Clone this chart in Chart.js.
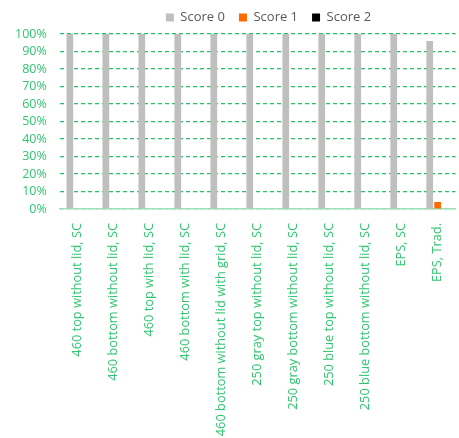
<!DOCTYPE html>
<html>
<head>
<meta charset="utf-8">
<script src="https://cdn.jsdelivr.net/npm/chart.js@4"></script>
<style>
  html, body { margin: 0; padding: 0; background: #fff; }
  #wrap { position: relative; width: 459px; height: 438px; }
</style>
</head>
<body>
<div id="wrap"><canvas id="chart"></canvas></div>
<script>
const categories = [
    '460 top without lid, SC',
    '460 bottom without lid, SC',
    '460 top with lid, SC',
    '460 bottom with lid, SC',
    '460 bottom without lid with grid, SC',
    '250 gray top without lid, SC',
    '250 gray bottom without lid, SC',
    '250 blue top without lid, SC',
    '250 blue bottom without lid, SC',
    'EPS, SC',
    'EPS, Trad.'
];
const score0 = [100, 100, 100, 100, 100, 100, 100, 100, 100, 100, 96];
const score1 = [0, 0, 0, 0, 0, 0, 0, 0, 0, 0, 4];
const score2 = [0, 0, 0, 0, 0, 0, 0, 0, 0, 0, 0];
const yTicks = [0, 10, 20, 30, 40, 50, 60, 70, 80, 90, 100];

const green = '#2fc670';

// legend sits a bit right of centre, over the plot area
const legendShift = {
    id: 'legendShift',
    afterLayout(chart) {
        const lg = chart.legend;
        if (lg) { lg.left += 38; lg.right += 38; }
    }
};

new Chart(document.getElementById('chart'), {
    type: 'bar',
    data: {
        labels: categories,
        datasets: [
            { label: 'Score 0', data: score0, backgroundColor: '#bfbfbf' },
            { label: 'Score 1', data: score1, backgroundColor: '#ff6a00' },
            { label: 'Score 2', data: score2, backgroundColor: '#000000' }
        ]
    },
    plugins: [legendShift],
    options: {
        responsive: true,
        maintainAspectRatio: false,
        animation: false,
        layout: { padding: { top: -3, right: 0, left: 2, bottom: 0 } },
        datasets: { bar: { categoryPercentage: 0.66, barPercentage: 0.85 } },
        plugins: {
            legend: {
                position: 'top',
                labels: {
                    boxWidth: 8,
                    boxHeight: 8,
                    padding: 14,
                    color: '#595959',
                    font: { family: "'Open Sans', sans-serif", size: 13 }
                }
            },
            tooltip: { enabled: false }
        },
        scales: {
            x: {
                grid: { display: false },
                border: { color: '#9ee0b8', width: 1.5 },
                afterFit: s => { s.height = 229; },
                ticks: {
                    color: green,
                    minRotation: 90,
                    maxRotation: 90,
                    autoSkip: false,
                    padding: 6,
                    font: { family: "'Open Sans', sans-serif", size: 12.8 }
                }
            },
            y: {
                min: 0,
                max: 100,
                afterBuildTicks: axis => { axis.ticks = yTicks.map(v => ({ value: v })); },
                grid: { color: '#27c068', lineWidth: 1.2, drawTicks: false },
                border: { display: false, dash: [4, 3] },
                ticks: {
                    color: green,
                    padding: 13,
                    autoSkip: false,
                    callback: v => v + '%',
                    font: { family: "'Open Sans', sans-serif", size: 12.5 }
                }
            }
        }
    }
});
</script>
</body>
</html>
